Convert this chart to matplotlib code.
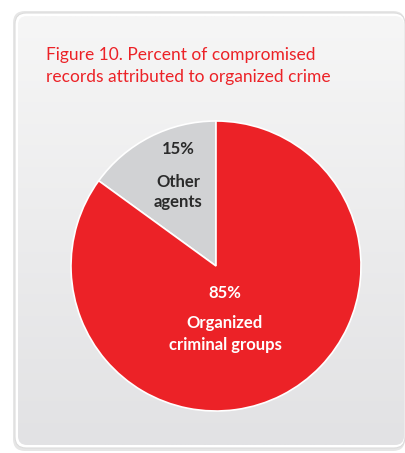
import numpy as np
import matplotlib
matplotlib.use("Agg")
import matplotlib.pyplot as plt
from matplotlib.patches import FancyBboxPatch

title_lines = ["Figure 10. Percent of compromised", "records attributed to organized crime"]
labels = ["Other\nagents", "Organized\ncriminal groups"]
shares = [15, 85]
slice_colors = ["#d1d2d4", "#ec2227"]
text_colors = ["#2b2b2b", "white"]

W, H = 405, 453
fig = plt.figure(figsize=(W / 100, H / 100), dpi=100, facecolor="white")

def fx(px):
    return px / W

def fy(py):
    return 1 - py / H

# panel background with soft vertical gradient
bg = fig.add_axes([0, 0, 1, 1])
bg.set_xlim(0, W)
bg.set_ylim(H, 0)
bg.axis("off")
shadow = FancyBboxPatch((13, 11), 392, 440, boxstyle="round,pad=0,rounding_size=12",
                        fc="#e6e6e6", ec="none")
bg.add_patch(shadow)
frame = FancyBboxPatch((15, 13), 390, 435, boxstyle="round,pad=0,rounding_size=11",
                       fc="white", ec="#dcdcdc", lw=0.8)
bg.add_patch(frame)
panel = FancyBboxPatch((18, 16), 386, 429, boxstyle="round,pad=0,rounding_size=9",
                       fc="none", ec="none")
bg.add_patch(panel)
grad = np.linspace(0, 1, 256).reshape(-1, 1)
top = np.array([0xf6, 0xf6, 0xf6]) / 255
bot = np.array([0xe2, 0xe2, 0xe4]) / 255
img = top + (bot - top) * grad[..., None]
im = bg.imshow(img, extent=[18, 404, 445, 16], aspect="auto", zorder=1)
im.set_clip_path(panel)

for i, line in enumerate(title_lines):
    fig.text(fx(46), fy(55 + 22 * i), line, color="#ec2227", fontsize=12.5,
             family="Lato", va="center", ha="left")

# pie
cx, cy, r = 216, 266, 145
ax = fig.add_axes([fx(cx - r), fy(cy + r), 2 * r / W, 2 * r / H])
ax.pie(shares, colors=slice_colors, startangle=90, counterclock=True,
       wedgeprops=dict(edgecolor="white", linewidth=1.2))
ax.set_xlim(-1, 1)
ax.set_ylim(-1, 1)
ax.set_aspect("auto")
ax.axis("off")

def to_data(px, py):
    return (px - cx) / r, (cy - py) / r

label_pos = [((178, 149), (178, 192)), ((225, 293), (225, 334))]
spacing = [1.25, 1.4]
for share, lab, col, (pct_xy, lab_xy), ls in zip(shares, labels, text_colors, label_pos, spacing):
    ax.text(*to_data(*pct_xy), f"{share}%", color=col, fontsize=12,
            fontweight="bold", family="Lato", ha="center", va="center")
    ax.text(*to_data(*lab_xy), lab, color=col, fontsize=12, fontweight="bold",
            family="Lato", ha="center", va="center", linespacing=ls)

fig.savefig("out.png", dpi=100, facecolor="white")
